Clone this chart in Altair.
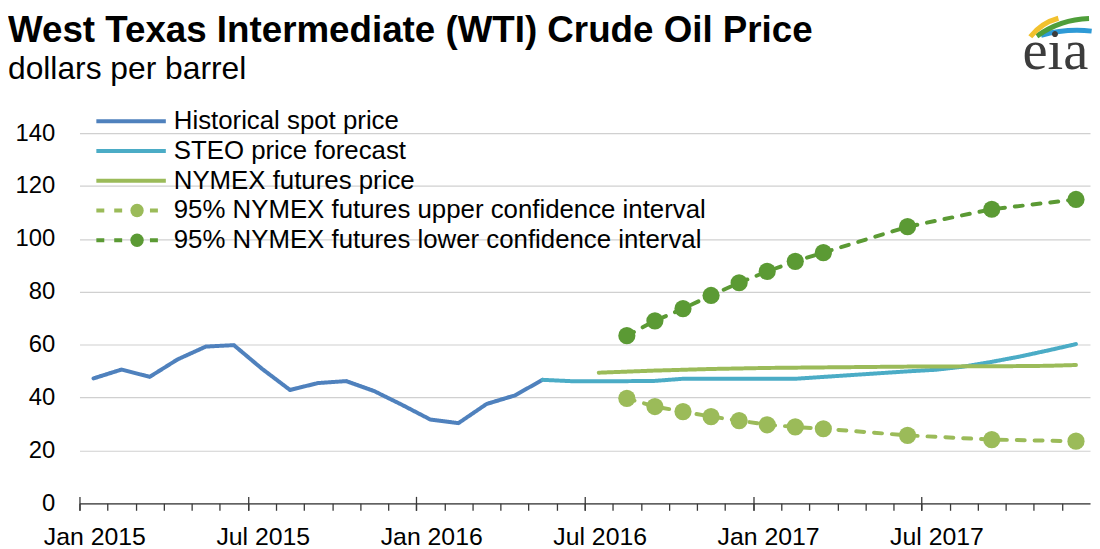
import json
import altair as alt
import pandas as pd

FONT = "Liberation Sans, Arial, sans-serif"

# ---- series definitions -------------------------------------------------
series_names = [
    "Historical spot price",
    "STEO price forecast",
    "NYMEX futures price",
    "95% NYMEX futures upper confidence interval",
    "95% NYMEX futures lower confidence interval",
]
series_colors = ["#4F81BD", "#4BACC6", "#9BBB59", "#9BBB59", "#5B9A34"]
series_dashes = [[1, 0], [1, 0], [1, 0], [8, 10], [8, 10]]

# x axis: month index 0 = Jan 2015 ... 35 = Dec 2017
tick_labels = ["Jan 2015", "Jul 2015", "Jan 2016", "Jul 2016", "Jan 2017", "Jul 2017"]

# Historical spot price, Jan 2015 - May 2016
hist_start = 0
hist_values = [47.22, 50.58, 47.82, 54.45, 59.27, 59.82, 50.90, 42.87, 45.48,
               46.22, 42.44, 37.19, 31.68, 30.32, 37.55, 40.75, 46.71]

# STEO forecast, May 2016 - Dec 2017
steo_start = 16
steo_values = [46.7, 46.2, 46.2, 46.2, 46.3, 47.1, 47.1, 47.1, 47.1, 47.1,
               47.8, 48.5, 49.2, 49.9, 50.5, 51.7, 53.5, 55.5, 57.8, 60.2]

# NYMEX futures, Jul 2016 - Dec 2017
nymex_start = 18
nymex_values = [49.4, 49.8, 50.2, 50.5, 50.8, 51.0, 51.2, 51.3, 51.4,
                51.5, 51.6, 51.7, 51.7, 51.8, 51.8, 51.9, 52.0, 52.3]

# Confidence interval markers
ci_months = [19, 20, 21, 22, 23, 24, 25, 26, 29, 32, 35]
ci_light_values = [39.7, 36.6, 34.7, 32.8, 31.3, 29.7, 28.9, 28.2, 25.7, 24.1, 23.5]
ci_dark_values = [63.4, 69.0, 73.6, 78.6, 83.4, 87.7, 91.5, 94.8, 104.6, 111.2, 114.9]

title_text = "West Texas Intermediate (WTI) Crude Oil Price"
subtitle_text = "dollars per barrel"
logo_text = "eia"

# ---- build tables --------------------------------------------------------
rows = []
for i, v in enumerate(hist_values):
    rows.append({"series": series_names[0], "month": hist_start + i, "value": v})
for i, v in enumerate(steo_values):
    rows.append({"series": series_names[1], "month": steo_start + i, "value": v})
for i, v in enumerate(nymex_values):
    rows.append({"series": series_names[2], "month": nymex_start + i, "value": v})
for m, v in zip(ci_months, ci_light_values):
    rows.append({"series": series_names[3], "month": m, "value": v})
for m, v in zip(ci_months, ci_dark_values):
    rows.append({"series": series_names[4], "month": m, "value": v})
line_df = pd.DataFrame(rows)

marker_names = [s + " (marker)" for s in series_names]
marker_colors = ["transparent", "transparent", "transparent", series_colors[3], series_colors[4]]
pt_df = line_df[line_df["series"].isin(series_names[3:])].copy()
pt_df["marker"] = pt_df["series"] + " (marker)"

# ---- scales & axes -------------------------------------------------------
x_scale = alt.Scale(domain=[0, 36], nice=False, zero=False)

minor_axis = alt.Axis(
    orient="bottom", values=list(range(0, 36)), tickSize=7, tickWidth=1.3,
    tickColor="#3a3a3a", domain=True, domainColor="#3a3a3a", domainWidth=1.3,
    labels=False, grid=False, title=None,
)
major_axis = alt.Axis(
    orient="bottom", values=list(range(0, 36, 6)), tickSize=14, tickWidth=1.3,
    tickColor="#3a3a3a", offset=-7, domain=False, grid=False, title=None,
    labelExpr=json.dumps(tick_labels) + "[round(datum.value / 6)]",
    labelOffset=15, labelPadding=14, labelFontSize=25, labelFont=FONT,
    labelColor="#000000", labelFlush=False, labelOverlap=False, labelLimit=400,
)
y_enc = alt.Y(
    "value:Q",
    scale=alt.Scale(domain=[0, 140], nice=False, zero=True),
    axis=alt.Axis(
        values=list(range(0, 141, 20)), title=None, grid=True, gridColor="#d0d0d0",
        gridWidth=1.2, ticks=False, tickSize=0, domain=False, labelFontSize=24,
        labelFont=FONT, labelColor="#000000", labelPadding=25,
    ),
)

legend_main = alt.Legend(
    orient="none", legendX=15, legendY=-25, title=None, symbolType="stroke",
    symbolSize=4900, symbolStrokeWidth=4, labelFontSize=26, labelFont=FONT,
    labelColor="#000000", labelLimit=900, clipHeight=26, rowPadding=4,
    labelOffset=6, padding=0,
)
legend_marker = alt.Legend(
    orient="none", legendX=45, legendY=-25, title=None, symbolType="circle",
    symbolSize=180, symbolStrokeWidth=0, labelFontSize=26, labelFont=FONT,
    labelExpr="''", labelLimit=900, clipHeight=26, rowPadding=4, padding=0,
)

lines = alt.Chart(line_df).transform_calculate(xm="datum.month + 0.5").mark_line(
    strokeWidth=4, strokeCap="round", strokeJoin="round"
).encode(
    x=alt.X("xm:Q", scale=x_scale, axis=minor_axis),
    y=y_enc,
    color=alt.Color("series:N", scale=alt.Scale(domain=series_names, range=series_colors),
                    legend=legend_main),
    strokeDash=alt.StrokeDash("series:N", scale=alt.Scale(domain=series_names, range=series_dashes),
                              legend=legend_main),
)

points = alt.Chart(pt_df).transform_calculate(xm="datum.month + 0.5").mark_point(
    filled=True, shape="circle", size=300, opacity=1, strokeWidth=0
).encode(
    x=alt.X("xm:Q", scale=x_scale, axis=major_axis),
    y=y_enc,
    fill=alt.Fill("marker:N", scale=alt.Scale(domain=marker_names, range=marker_colors),
                  legend=legend_marker),
)

one = alt.Data(values=[{"k": 1}])
title_layer = alt.Chart(one).mark_text(
    text=title_text, align="left", baseline="alphabetic", font=FONT, fontSize=37,
    fontWeight="bold", color="#000000"
).encode(x=alt.value(-72), y=alt.value(-92))
subtitle_layer = alt.Chart(one).mark_text(
    text=subtitle_text, align="left", baseline="alphabetic", font=FONT, fontSize=32,
    color="#000000"
).encode(x=alt.value(-72), y=alt.value(-54))
logo_layer = alt.Chart(one).mark_text(
    text=logo_text, align="left", baseline="alphabetic",
    font="Liberation Serif, DejaVu Serif, serif", fontSize=57, color="#3c3c3c"
).encode(x=alt.value(950), y=alt.value(-65))

def swoosh(cx, cy, r, t1, t2, col):
    return alt.Chart(one).mark_arc(
        radius=r, radius2=r - 5, theta=t1, theta2=t2, color=col
    ).encode(x=alt.value(cx), y=alt.value(cy))

arc_blue = swoosh(1005, 30, 136, 6.008, 6.393, "#2E9AD6")
arc_green = swoosh(1020, -20, 98, 5.662, 6.252, "#4E9E3A")
arc_yellow = swoosh(1000, -64, 56, 5.376, 6.021, "#F2C12E")

chart = alt.layer(
    lines, points, title_layer, subtitle_layer, arc_blue, arc_green, arc_yellow, logo_layer
).resolve_axis(x="independent").properties(
    width=1018, height=373,
    autosize=alt.AutoSizeParams(type="none"),
    padding={"left": 72, "top": 124, "right": 2, "bottom": 44},
).configure_view(stroke=None)

chart.save("out.html", embed_options={"renderer": "svg", "actions": False})
